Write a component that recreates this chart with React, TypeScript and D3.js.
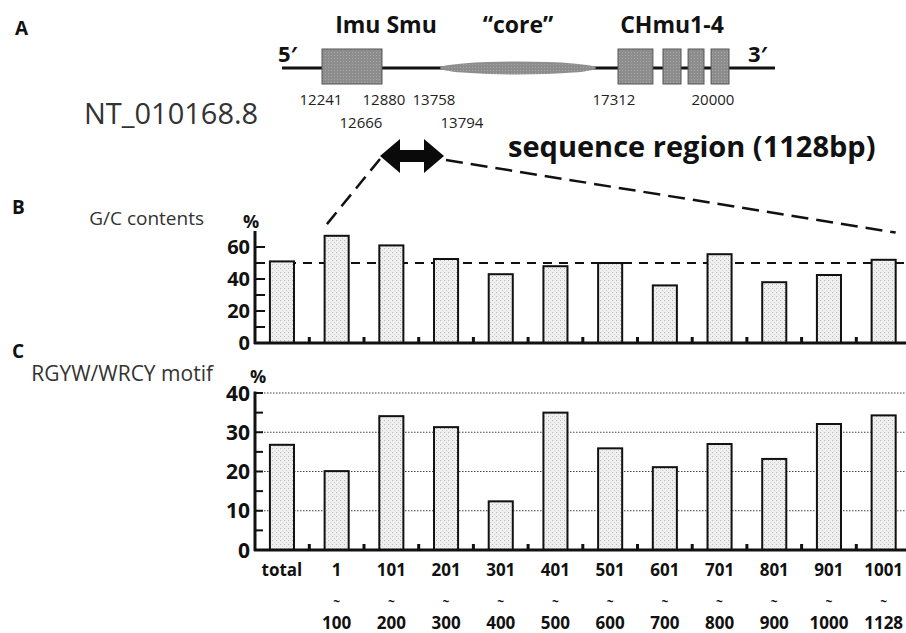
import React from 'react';
import * as d3 from 'd3';

// bins along the 1128bp sequence
const bins = ["total", "1-100", "101-200", "201-300", "301-400", "401-500", "501-600",
  "601-700", "701-800", "801-900", "901-1000", "1001-1128"];
const binStart = ["total", "1", "101", "201", "301", "401", "501", "601", "701", "801", "901", "1001"];
const binEnd = ["", "100", "200", "300", "400", "500", "600", "700", "800", "900", "1000", "1128"];

// G/C contents (%)
const gcValues = [51, 67, 61, 52.5, 43, 48, 50, 36, 55.5, 38, 42.5, 52];
const gcRef = 50;
const gcTicks = [0, 20, 40, 60];

// RGYW/WRCY motif (%)
const motifValues = [26.8, 20.1, 34.1, 31.3, 12.4, 35, 25.9, 21.1, 27, 23.2, 32.1, 34.3];
const motifTicks = [0, 10, 20, 30, 40];

// schematic of the locus (genomic positions)
const posLabelsTop = [12241, 12880, 13758, 17312, 20000];
const posLabelsLow = [12666, 13794];
const imuSmu = [12241, 12880];
const core = [13758, 16870];
const chExons = [[17312, 18300], [18585, 19095], [19295, 19745], [19945, 20400]];
const locus = [11815, 21550];

const FONT = "'Open Sans', 'Liberation Sans', sans-serif";

export default function App() {
  const W = 906, H = 633;
  const x = d3.scaleBand().domain(bins).range([254.6, 911]).paddingInner(0.56).paddingOuter(0.28);
  const bw = x.bandwidth();
  const yB = d3.scaleLinear().domain([0, 70]).range([343, 231]);
  const yC = d3.scaleLinear().domain([0, 40]).range([550, 393]);
  const g = d3.scaleLinear()
    .domain([12241, 12880, 13758, 17312, 20000, 20400])
    .range([322, 382, 440, 618, 713, 729]);
  const axisX = 255;
  const xEnd = 906;
  const bounds = bins.slice(1).map(b => (x(b) as number) - (x.step() - bw) / 2);

  const lineY = 68;
  const arrowL = 380, arrowR = 444, arrowY = 156;

  const bars = (vals: number[], y: d3.ScaleLinear<number, number>) =>
    vals.map((v, i) => (
      <rect key={i} x={x(bins[i])} y={y(v)} width={bw} height={y(0) - y(v)}
        fill="url(#stip)" stroke="#111" strokeWidth={2} />
    ));

  const baseTicks = (y0: number) =>
    bounds.map((bx, i) => <rect key={i} x={bx - 1.5} y={y0 - 6} width={3} height={6} fill="#111" />);

  return (
    <svg width={W} height={H} style={{ position: 'absolute', left: 0, top: 0, background: '#fff' }}
      fontFamily={FONT}>
      <defs>
        <pattern id="stip" width={4} height={4} patternUnits="userSpaceOnUse">
          <rect width={4} height={4} fill="#efefef" />
          <rect x={0} y={0} width={1} height={1} fill="#b5b5b5" />
          <rect x={2} y={2} width={1} height={1} fill="#cfcfcf" />
        </pattern>
        <pattern id="grayst" width={3} height={3} patternUnits="userSpaceOnUse">
          <rect width={3} height={3} fill="#8d8d8d" />
          <rect x={1} y={1} width={1} height={1} fill="#a8a8a8" />
        </pattern>
      </defs>

      {/* ---------- A: locus schematic ---------- */}
      <text x={15} y={35} fontSize={19} fontWeight="bold" fill="#111">A</text>
      <text x={84} y={124} fontSize={29} fill="#333">NT_010168.8</text>
      <line x1={g(locus[0])} x2={g(locus[1])} y1={lineY} y2={lineY} stroke="#111" strokeWidth={3} />
      <text x={278} y={62} fontSize={22} fontWeight="bold" fill="#111">5′</text>
      <text x={748} y={62} fontSize={22} fontWeight="bold" fill="#111">3′</text>
      <rect x={g(imuSmu[0])} y={49} width={g(imuSmu[1]) - g(imuSmu[0])} height={35}
        fill="url(#grayst)" stroke="#555" strokeWidth={1} />
      <ellipse cx={(g(core[0]) + g(core[1])) / 2} cy={lineY} rx={(g(core[1]) - g(core[0])) / 2} ry={6.5}
        fill="url(#grayst)" />
      {chExons.map((e, i) => (
        <rect key={i} x={g(e[0])} y={49} width={g(e[1]) - g(e[0])} height={35}
          fill="url(#grayst)" stroke="#555" strokeWidth={1} />
      ))}
      <text x={386} y={33} fontSize={23} fontWeight="bold" fill="#111" textAnchor="middle">Imu Smu</text>
      <text x={518} y={33} fontSize={23} fontWeight="bold" fill="#111" textAnchor="middle">“core”</text>
      <text x={672} y={33} fontSize={23} fontWeight="bold" fill="#111" textAnchor="middle">CHmu1-4</text>
      {posLabelsTop.map((p, i) => (
        <text key={p} x={[321, 384, 434, 614, 713][i]} y={105} fontSize={15} fill="#222" textAnchor="middle">{p}</text>
      ))}
      {posLabelsLow.map((p, i) => (
        <text key={p} x={[361, 462][i]} y={128} fontSize={15} fill="#222" textAnchor="middle">{p}</text>
      ))}
      <path d={`M${arrowL},${arrowY} L${arrowL + 20},${arrowY - 17} L${arrowL + 20},${arrowY - 6}
        L${arrowR - 20},${arrowY - 6} L${arrowR - 20},${arrowY - 17} L${arrowR},${arrowY}
        L${arrowR - 20},${arrowY + 17} L${arrowR - 20},${arrowY + 6} L${arrowL + 20},${arrowY + 6}
        L${arrowL + 20},${arrowY + 17} Z`} fill="#0a0a0a" />
      <text x={508} y={157} fontSize={29} fontWeight="bold" fill="#111">sequence region (1128bp)</text>
      <line x1={arrowL} y1={arrowY + 3} x2={(x("1-100") as number) - 2} y2={yB(71)}
        stroke="#111" strokeWidth={2.5} strokeDasharray="15 8" />
      <line x1={arrowR + 2} y1={arrowY + 4} x2={(x("1001-1128") as number) + bw} y2={yB(69)}
        stroke="#111" strokeWidth={2.5} strokeDasharray="17 8" />

      {/* ---------- B: G/C contents ---------- */}
      <text x={12} y={214} fontSize={19} fontWeight="bold" fill="#111">B</text>
      <text x={204} y={225} fontSize={19} fill="#333" textAnchor="end">G/C contents</text>
      <text x={243} y={228} fontSize={18} fontWeight="bold" fill="#111">%</text>
      <line x1={axisX} x2={xEnd} y1={yB(gcRef)} y2={yB(gcRef)} stroke="#111" strokeWidth={2}
        strokeDasharray="9 7" />
      {bars(gcValues, yB)}
      {d3.range(0, 70, 10).map(t => (
        <line key={t} x1={axisX} x2={axisX + 10} y1={yB(t)} y2={yB(t)} stroke="#111" strokeWidth={2} />
      ))}
      <line x1={axisX} x2={axisX} y1={yB(0) + 1} y2={yB(70)} stroke="#111" strokeWidth={3} />
      <line x1={axisX - 1} x2={xEnd} y1={yB(0)} y2={yB(0)} stroke="#111" strokeWidth={3} />
      {baseTicks(yB(0))}
      {gcTicks.map(t => (
        <text key={t} x={250} y={yB(t)} dy="0.36em" fontSize={20} fontWeight="bold" fill="#111"
          textAnchor="end">{t}</text>
      ))}

      {/* ---------- C: RGYW/WRCY motif ---------- */}
      <text x={12} y={358} fontSize={19} fontWeight="bold" fill="#111">C</text>
      <text x={213} y={381} fontSize={21} fill="#333" textAnchor="end">RGYW/WRCY motif</text>
      <text x={250} y={383} fontSize={18} fontWeight="bold" fill="#111">%</text>
      {motifTicks.slice(1).map(t => (
        <line key={t} x1={axisX} x2={xEnd} y1={yC(t)} y2={yC(t)} stroke="#444" strokeWidth={1}
          strokeDasharray="1.5 1.5" />
      ))}
      {bars(motifValues, yC)}
      {d3.range(0, 45, 5).map(t => (
        <line key={t} x1={axisX} x2={axisX + 8} y1={yC(t)} y2={yC(t)} stroke="#111" strokeWidth={2} />
      ))}
      <line x1={axisX} x2={axisX} y1={yC(0) + 1} y2={yC(40) - 1.5} stroke="#111" strokeWidth={3} />
      <line x1={axisX - 1} x2={xEnd} y1={yC(0)} y2={yC(0)} stroke="#111" strokeWidth={3} />
      {baseTicks(yC(0))}
      {motifTicks.map(t => (
        <text key={t} x={250} y={yC(t)} dy="0.36em" fontSize={21} fontWeight="bold" fill="#111"
          textAnchor="end">{t}</text>
      ))}

      {/* ---------- x labels ---------- */}
      {bins.map((b, i) => {
        const cx = (x(b) as number) + bw / 2;
        return (
          <g key={b} fontWeight="bold" fill="#111" textAnchor="middle">
            <text x={cx} y={576} fontSize={17}>{binStart[i]}</text>
            {binEnd[i] && <text x={cx} y={606} fontSize={12}>~</text>}
            {binEnd[i] && <text x={cx} y={629} fontSize={17}>{binEnd[i]}</text>}
          </g>
        );
      })}
    </svg>
  );
}
